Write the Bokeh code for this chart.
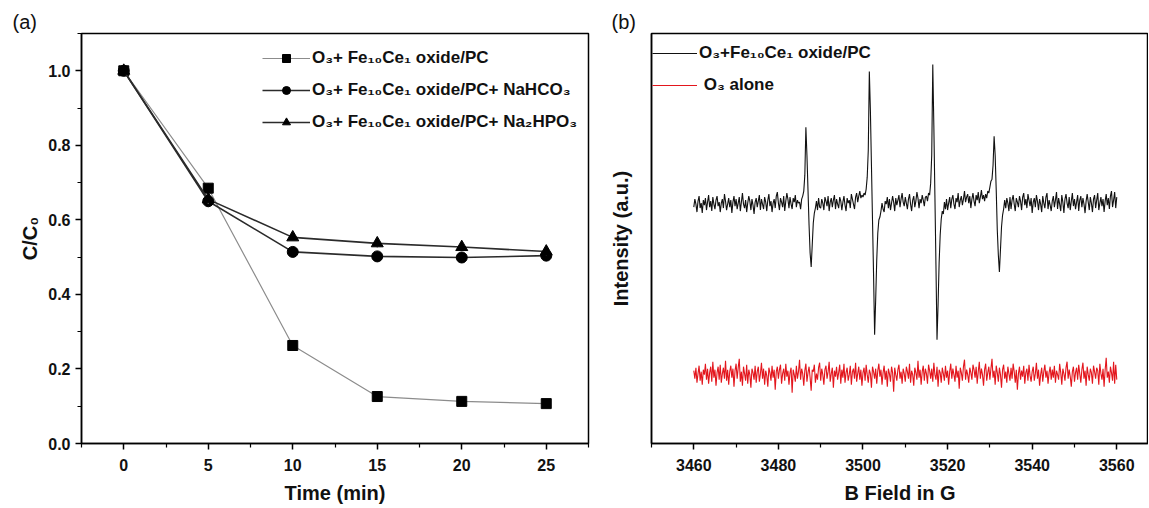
from bokeh.plotting import figure
from bokeh.models import Range1d, FixedTicker, PrintfTickFormatter, Legend, LegendItem
from bokeh.layouts import row
from bokeh.embed import file_html
from bokeh.resources import INLINE

# ---------------- data: panel (a) ----------------
time_min = [0, 5, 10, 15, 20, 25]
c_fece = [1.0, 0.685, 0.263, 0.126, 0.113, 0.107]
c_nahco3 = [1.0, 0.650, 0.514, 0.502, 0.499, 0.504]
c_na2hpo3 = [1.0, 0.655, 0.553, 0.537, 0.527, 0.515]
err_fece = [0.008, 0.014, 0.007, 0.006, 0.005, 0.005]
err_nahco3 = [0.008, 0.016, 0.008, 0.006, 0.006, 0.008]
err_na2hpo3 = [0.008, 0.012, 0.008, 0.012, 0.008, 0.010]

x_ticks_a = [0, 5, 10, 15, 20, 25]
x_minor_a = [-2.5, 2.5, 7.5, 12.5, 17.5, 22.5, 27.5]
y_ticks_a = [0.0, 0.2, 0.4, 0.6, 0.8, 1.0]
y_minor_a = [0.1, 0.3, 0.5, 0.7, 0.9, 1.1]

labels_a = ["O\u2083+ Fe\u2081\u2080Ce\u2081 oxide/PC",
            "O\u2083+ Fe\u2081\u2080Ce\u2081 oxide/PC+ NaHCO\u2083",
            "O\u2083+ Fe\u2081\u2080Ce\u2081 oxide/PC+ Na\u2082HPO\u2083"]

# ---------------- data: panel (b) ----------------
# spectra sampled every 0.25 G from 3460 G (one line of values = 5 G)
b_start = 3460.0
b_step = 0.25
black_intensity = [
    -2, 6, 1, -7, 4, 9, -3, 2, -8, 5, 0, 7, -5, 3, 10, -2, 4, -6, 8, 1,
    -4, 5, 9, -1, 3, -7, 2, 6, -3, 11, 4, -5, 1, 7, -2, 5, -8, 3, 9, -1,
    6, -4, 2, 8, -6, 3, 12, 1, -3, 5, -7, 2, 9, 4, -5, 6, 0, -9, 3, 7,
    -2, 4, 10, -5, 6, 1, -4, 8, 3, -6, 5, 11, -1, 4, -7, 2, 6, -3, 9, 13,
    2, -5, 7, 3, -2, 9, -6, 4, 12, 6, -3, 8, 1, -4, 7, 3, 10, -2, 5, 2,
    3, -4, 6, 9, 14, 30, 78, 50, 15, -20, -48, -62, -40, -18, -8, -3, 4, -5, 7, -2,
    -3, 6, 2, -5, 8, 4, -1, 9, -6, 3, 7, -2, 5, 10, -4, 6, 1, -3, 8, 4,
    -5, 3, 9, 0, -6, 7, 2, 5, -3, 11, 6, 1, -4, 8, 12, 3, 9, 14, 7, 10,
    8, 12, 10, 16, 28, 55, 134, 95, 40, -15, -70, -130, -95, -55, -28, -15, -12, -6, 2, -4,
    -7, 4, 1, 8, -3, 6, -5, 2, 9, 3, -6, 7, 0, 5, 10, -2, 6, 12, 3, -1,
    8, 2, -4, 6, 11, 1, -6, 5, 9, -2, 4, 13, 7, -3, 6, 2, 10, 5, -1, 8,
    9, 4, 12, 10, 22, 50, 141, 80, 10, -60, -135, -100, -58, -30, -14, -6, -9, 3, -4, 6,
    -5, 2, 8, -3, 6, 10, 1, -4, 7, 3, 12, -2, 5, 9, 0, 6, 14, 3, 8, 11,
    2, 9, -3, 6, 12, 4, -1, 10, 5, 13, 2, 8, 15, 6, 10, 4, 11, 7, 14, 12,
    18, 24, 26, 40, 69, 50, 15, -25, -50, -67, -45, -22, -10, -4, 5, -3, 7, 2, -6, 8,
    -4, 5, 10, 1, -6, 7, 3, -2, 9, 4, -5, 8, 12, 0, 6, -3, 11, 5, -1, 7,
    -8, 3, 7, -2, 10, 4, -5, 6, 1, -7, 9, 2, -3, 8, 12, -4, 5, 0, -6, 4,
    9, -2, 5, 13, -4, 7, 1, -6, 10, 3, -8, 6, 11, 2, -3, 8, -5, 4, 12, -1,
    6, -4, 3, 10, -6, 5, 9, -2, 7, 1, -8, 4, 11, 3, -5, 8, 2, -7, 6, 10,
    -3, 5, 12, -5, 2, 8, -1, 6, -7, 4, 11, 0, 7, -4, 9, 14, -2, 5, 13, -3,
    8]
red_intensity = [
    5, -3, 8, -7, 2, 10, -5, 4, -9, 6, 1, 12, -4, 7, -8, 3, 9, -6, 14, -2,
    6, -10, 3, 9, -4, 11, -7, 2, 8, -3, 15, -5, 6, -9, 4, 10, -2, 7, -11, 5,
    12, -3, 8, 17, -6, 4, -10, 9, 2, -5, 11, -8, 6, 1, -12, 7, 3, -4, 10, -7,
    4, 9, -6, 2, 13, -3, 7, -9, 5, 0, -11, 8, 3, -5, 10, -2, 6, -14, 4, 9,
    -3, 6, 11, -8, 2, 7, -5, 12, -1, 5, -9, 3, 8, -17, 6, 1, -6, 10, -3, 4,
    16, -4, 7, 2, -10, 5, 12, -6, 3, 9, -2, -15, 6, 4, 11, -7, 2, -4, 8, 13,
    -5, 7, 1, -9, 6, 10, -3, 4, 14, -6, 2, 8, -12, 5, -1, 9, -4, 3, 11, -8,
    6, -2, 12, -7, 3, 8, -5, 1, 10, -9, 4, 7, -3, 13, -6, 2, 9, -4, 6, -10,
    3, 8, -5, 11, 1, -7, 6, 2, -12, 9, 4, -3, 7, -8, 5, 12, -1, 6, -9, 3,
    10, -4, 5, -11, 7, 2, -6, 9, 3, -16, 8, 1, -5, 6, 11, -3, 4, -8, 7, 2,
    -6, 9, 4, -3, 12, -7, 5, 1, -10, 8, 3, -4, 15, -2, 6, -9, 4, 10, -5, 7,
    2, -8, 11, 5, -3, 7, -6, 13, 1, -4, 9, -11, 6, 3, -7, 8, 2, -5, 10, -2,
    5, -9, 4, 12, -3, 7, 1, -6, 10, -2, 5, -13, 8, 3, -5, 9, 16, -4, 6, 1,
    -7, 8, 3, -4, 11, 6, -2, 9, -8, 4, 14, -3, 7, 1, -10, 6, 12, -5, 3, 9,
    -4, 7, 17, -2, 5, -9, 10, 3, -6, 8, 1, -12, 6, 11, -3, 4, -7, 9, 2, -5,
    8, -3, 12, 4, -7, 6, -14, 2, 9, -4, 5, -1, 10, -8, 3, 7, -5, 11, 0, -6,
    4, 9, -5, 2, 13, -3, 6, -10, 1, 8, -6, 4, 11, -2, 5, -8, 3, 9, -4, 6,
    -2, 10, -7, 5, 1, -4, 12, 3, -9, 7, 2, -5, 8, 14, -3, 6, -1, -11, 4, 9,
    -6, 3, 8, -4, 11, 2, -7, 6, 13, -3, 5, -10, 9, 1, -5, 7, 3, -8, 10, 4,
    -3, 8, 5, -9, 12, 2, -4, 7, -11, 6, 18, -2, 4, -7, 9, 3, -5, 14, -8, 11,
    -4]
black_offset = 171

x_ticks_b = [3460, 3480, 3500, 3520, 3540, 3560]
x_minor_b = [3450, 3470, 3490, 3510, 3530, 3550]
labels_b = ["O\u2083+Fe\u2081\u2080Ce\u2081 oxide/PC", "\u00a0O\u2083 alone"]

FONT = "Liberation Sans"


def style_axes(p):
    p.grid.visible = False
    p.outline_line_color = "black"
    p.outline_line_width = 1.5
    p.title.text_font = FONT
    p.title.text_font_style = "normal"
    p.title.text_font_size = "20px"
    p.title.text_color = "#111111"
    p.title.align = "left"
    p.title.standoff = 2
    for ax in (p.xaxis, p.yaxis):
        ax.axis_line_width = 1.5
        ax.major_tick_line_width = 1.5
        ax.minor_tick_line_width = 1.2
        ax.major_tick_in = 0
        ax.major_tick_out = 6
        ax.minor_tick_in = 0
        ax.minor_tick_out = 4
        ax.major_label_text_font = FONT
        ax.major_label_text_font_style = "bold"
        ax.major_label_text_font_size = "16px"
        ax.major_label_text_color = "#111111"
        ax.axis_label_text_font = FONT
        ax.axis_label_text_font_style = "bold"
        ax.axis_label_text_font_size = "20px"
        ax.axis_label_text_color = "#111111"


def style_legend(leg, size):
    leg.background_fill_alpha = 0
    leg.border_line_color = None
    leg.padding = 0
    leg.margin = 0
    leg.spacing = 12
    leg.glyph_height = 20
    leg.label_height = 20
    leg.label_standoff = 2
    leg.label_text_font = FONT
    leg.label_text_font_style = "bold"
    leg.label_text_font_size = size
    leg.label_text_color = "#111111"


# ---------------- panel (a) ----------------
p1 = figure(width=600, height=506, x_range=Range1d(-2.5, 27.5), y_range=Range1d(0, 1.1),
            title="(a)", output_backend="svg", toolbar_location=None,
            min_border_left=81, min_border_right=12, min_border_top=33, min_border_bottom=62)
style_axes(p1)
p1.title.offset = -69
p1.xaxis.ticker = FixedTicker(ticks=x_ticks_a, minor_ticks=x_minor_a)
p1.yaxis.ticker = FixedTicker(ticks=y_ticks_a, minor_ticks=y_minor_a)
p1.yaxis.formatter = PrintfTickFormatter(format="%.1f")
p1.xaxis.axis_label = "Time (min)"
p1.yaxis.axis_label = "C/C\u2080"
p1.xaxis.major_label_standoff = 9
p1.xaxis.axis_label_standoff = 8
p1.yaxis.major_label_standoff = 5
p1.yaxis.axis_label_standoff = 4

series = [
    (c_fece, err_fece, "square", 10, "#8c8c8c", 1.2),
    (c_nahco3, err_nahco3, "circle", 11, "#2b2b2b", 1.6),
    (c_na2hpo3, err_na2hpo3, "triangle", 12, "#2b2b2b", 1.6),
]
items = []
for (vals, errs, marker, size, lcol, lw), lab in zip(series, labels_a):
    lo = [v - e for v, e in zip(vals, errs)]
    hi = [v + e for v, e in zip(vals, errs)]
    p1.segment(x0=time_min, y0=lo, x1=time_min, y1=hi, line_color="#9a9a9a", line_width=1.2)
    lr = p1.line(time_min, vals, line_color=lcol, line_width=lw)
    sr = p1.scatter(time_min, vals, marker=marker, size=size, fill_color="black", line_color="black")
    items.append(LegendItem(label=lab, renderers=[lr, sr]))

leg1 = Legend(items=items, location=(181, 311), orientation="vertical")
style_legend(leg1, "17px")
leg1.glyph_width = 48
p1.add_layout(leg1)

# ---------------- panel (b) ----------------
b_field_black = [b_start + b_step * i for i in range(len(black_intensity))]
b_field_red = [b_start + b_step * i for i in range(len(red_intensity))]
black_plot = [v + black_offset for v in black_intensity]

p2 = figure(width=548, height=506, x_range=Range1d(3450, 3567.5), y_range=Range1d(-68, 343),
            title="(b)", output_backend="svg", toolbar_location=None,
            min_border_left=51, min_border_right=0, min_border_top=33, min_border_bottom=62)
style_axes(p2)
p2.title.offset = -40
p2.xaxis.ticker = FixedTicker(ticks=x_ticks_b, minor_ticks=x_minor_b)
p2.yaxis.ticker = FixedTicker(ticks=[], minor_ticks=[])
p2.xaxis.axis_label = "B Field in G"
p2.yaxis.axis_label = "Intensity (a.u.)"
p2.xaxis.major_label_standoff = 9
p2.xaxis.axis_label_standoff = 8
p2.yaxis.axis_label_standoff = 20

r_black = p2.line(b_field_black, black_plot, line_color="#111111", line_width=1.1)
r_red = p2.line(b_field_red, red_intensity, line_color="#e3161d", line_width=1.1)

leg2 = Legend(items=[LegendItem(label=labels_b[0], renderers=[r_black]),
                     LegendItem(label=labels_b[1], renderers=[r_red])],
              location=(1, 348))
style_legend(leg2, "17px")
leg2.glyph_width = 45
p2.add_layout(leg2)

layout = row(p1, p2)
open("out.html", "w").write(file_html(layout, INLINE))
